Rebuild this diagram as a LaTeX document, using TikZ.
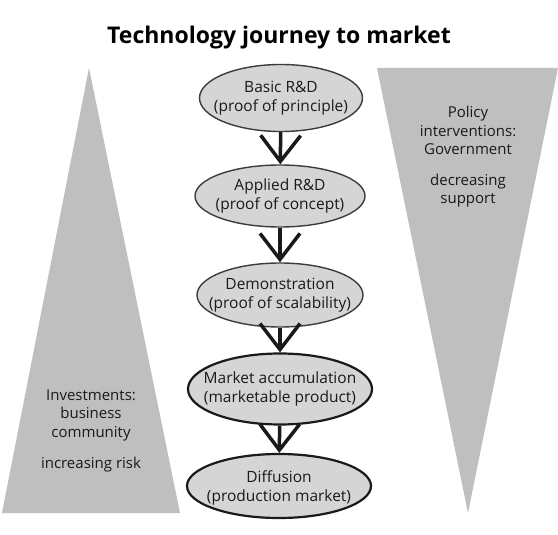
\documentclass[tikz,border=0pt]{standalone}
\usepackage{fontspec}
\setmainfont{Open Sans}
\usetikzlibrary{shapes.geometric, arrows.meta, positioning}
\usepackage{xcolor}
\definecolor{WedgeGrey}{HTML}{BFBFBF}
\definecolor{StageFill}{HTML}{D5D5D5}
\definecolor{InkDark}{HTML}{1A1A1A}
\definecolor{RimGrey}{HTML}{3C3C3C}

\begin{document}
\begin{tikzpicture}[
            x=1pt, y=-1pt,
            stage/.style={ellipse, draw=RimGrey, fill=StageFill, line width=1.4pt, inner sep=0pt, minimum width=166pt, minimum height=64pt},
            boldstage/.style={stage, draw=InkDark, line width=2.2pt, minimum width=184pt},
            stagetext/.style={align=center, font=\fontsize{15.5}{18.5}\selectfont, text=InkDark},
            wedgetext/.style={align=center, font=\fontsize{15}{18.5}\selectfont, text=InkDark},
            flow/.style={-{Straight Barb[length=26pt, width=40pt, line width=3.5pt]}, line width=3.5pt, color=InkDark}
        ]
            \useasboundingbox (0,0) rectangle (558,535);
            \fill[white] (0,0) rectangle (558,535);

            % title
            \node[font=\fontsize{23}{26}\selectfont\bfseries] (title) at (279,38) {Technology journey to market};

            % wedges
            \fill[WedgeGrey] (89,68) -- (180,513) -- (2,513) -- cycle;
            \fill[WedgeGrey] (377,68) -- (558,68) -- (468,513) -- cycle;
            \node[wedgetext] (invest) at (91,431) {Investments:\\business\\community\\[13pt]increasing risk};
            \node[wedgetext] (policy) at (468,157) {Policy\\interventions:\\Government\\[12pt]decreasing\\support};

            % stages
            \node[stage, minimum width=163pt, minimum height=67pt] (basic) at (281,98) {};
            \node[stage, minimum width=170pt, minimum height=62pt] (applied) at (280,196) {};
            \node[stage] (demo) at (280,295) {};
            \node[boldstage, minimum height=71pt] (market) at (280,389) {};
            \node[boldstage, minimum height=64pt] (diffusion) at (279,486) {};

            \node[stagetext] (basicT) at (basic) {Basic R\&D\\(proof of principle)};
            \node[stagetext] (appliedT) at (applied) {Applied R\&D\\(proof of concept)};
            \node[stagetext] (demoT) at (demo) {Demonstration\\(proof of scalability)};
            \node[stagetext] (marketT) at (market) {Market accumulation\\(marketable product)};
            \node[stagetext] (diffusionT) at ([yshift=-2pt]diffusion.center) {Diffusion\\(production market)};

            \draw[flow] (basic) -- (applied);
            \draw[flow] (applied) -- (demo);
            \draw[flow] (demo) -- (market);
            \draw[flow] (market) -- (diffusion);
        \end{tikzpicture}
\end{document}
